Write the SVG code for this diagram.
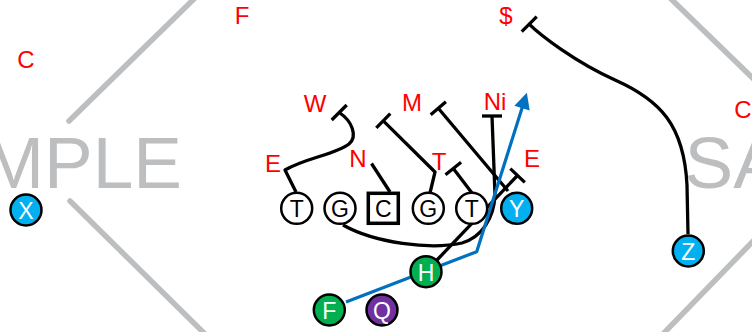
<svg xmlns="http://www.w3.org/2000/svg" width="752" height="332" viewBox="0 0 752 332">
  <defs>
    <style>
      .wm-line { stroke: #BCBEC0; stroke-width: 5.5; stroke-linecap: round; fill: none; }
      .wm-text { fill: #BCBEC0; font-family: "Liberation Sans", Arial, sans-serif; font-size: 73px; }
      .def { fill: #FF0000; font-family: "Liberation Sans", Arial, sans-serif; font-size: 24px; text-anchor: middle; }
      .player { stroke: #000; stroke-width: 2.5; }
      .lineman { fill: #FFFFFF; }
      .blue { fill: #00B0F0; }
      .green { fill: #00B050; }
      .purple { fill: #7030A0; }
      .lbl { font-family: "Liberation Sans", Arial, sans-serif; font-size: 23px; text-anchor: middle; }
      .lbl-dark { fill: #000; }
      .lbl-light { fill: #FFFFFF; }
      .route { stroke: #000; stroke-width: 3.3; fill: none; stroke-linecap: butt; stroke-linejoin: round; }
      .bar { stroke: #000; stroke-width: 3.3; }
      .run { stroke: #0070C0; stroke-width: 3.2; fill: none; stroke-linejoin: round; }
    </style>
    <marker id="arrow-blue" viewBox="0 0 10 10" refX="2" refY="5" markerWidth="5.6" markerHeight="5" orient="auto" markerUnits="strokeWidth">
      <path d="M0,0 L10,5 L0,10 z" fill="#0070C0"/>
    </marker>
  </defs>

  <rect width="752" height="332" fill="#FFFFFF"/>

  <!-- watermark -->
  <g id="watermark">
    <line class="wm-line" x1="69" y1="121" x2="197" y2="-4"/>
    <line class="wm-line" x1="70" y1="201" x2="206" y2="335"/>
    <line class="wm-line" x1="668" y1="-4" x2="762" y2="87"/>
    <line class="wm-line" x1="762" y1="232" x2="662" y2="335"/>
    <text class="wm-text" x="182" y="188" text-anchor="end">MPLE</text>
    <text class="wm-text" x="684.5" y="188">SA</text>
  </g>

  <!-- connectors: blocks, routes and the run path -->
  <g id="connectors">
    <!-- T to W -->
    <path class="route" d="M296,192 L285,170 C305,158 337,154 349,144 C358,136 352,121 339.2,112.5"/>
    <line class="bar" x1="331.7" y1="120" x2="346.7" y2="105"/>
    <!-- C to N -->
    <line class="route" x1="390" y1="192" x2="371.5" y2="163.5"/>
    <!-- G to M (combo) -->
    <path class="route" d="M430,193 L435,172 L383.3,120.8"/>
    <line class="bar" x1="376.3" y1="127.9" x2="390.3" y2="113.7"/>
    <!-- T to T -->
    <line class="route" x1="472" y1="193" x2="453.3" y2="168.5"/>
    <line class="bar" x1="445.5" y1="174.8" x2="461.1" y2="162.3"/>
    <!-- Y to M -->
    <line class="route" x1="508" y1="191" x2="438.3" y2="108.3"/>
    <line class="bar" x1="430.7" y1="114.8" x2="445.9" y2="101.8"/>
    <!-- G pull to Ni -->
    <path class="route" d="M343,225 C375,243 430,250 462,243 C482,237 494,218 495,195 L492,116"/>
    <line class="bar" x1="482" y1="116" x2="502" y2="116"/>
    <!-- H to E -->
    <line class="route" x1="437" y1="260" x2="517.5" y2="175.5"/>
    <line class="bar" x1="510.3" y1="168.6" x2="524.8" y2="182.4"/>
    <!-- Z to $ -->
    <path class="route" d="M688,234 L687,185 C684,125 660,100 615,80 C575,62 540,35 529.2,24.2"/>
    <line class="bar" x1="521.7" y1="31.7" x2="536.7" y2="16.7"/>
    <!-- F ball carrier path -->
    <path class="run" d="M346,302 L476.7,251.7 L523,105" marker-end="url(#arrow-blue)"/>
  </g>

  <!-- defenders -->
  <g id="def-F"><text class="def" x="242" y="24">F</text></g>
  <g id="def-C-left"><text class="def" x="26" y="68">C</text></g>
  <g id="def-S"><text class="def" x="506" y="24">$</text></g>
  <g id="def-C-right"><text class="def" x="743" y="118">C</text></g>
  <g id="def-W"><text class="def" x="315" y="112">W</text></g>
  <g id="def-M"><text class="def" x="412" y="111">M</text></g>
  <g id="def-Ni"><text class="def" x="495" y="110">Ni</text></g>
  <g id="def-E-left"><text class="def" x="273" y="172">E</text></g>
  <g id="def-N"><text class="def" x="358" y="167">N</text></g>
  <g id="def-T"><text class="def" x="439" y="170">T</text></g>
  <g id="def-E-right"><text class="def" x="532" y="167">E</text></g>

  <!-- offense -->
  <g id="off-X">
    <circle class="player blue" cx="26" cy="210" r="15.5"/>
    <text class="lbl lbl-light" x="26" y="219">X</text>
  </g>
  <g id="off-T-left">
    <circle class="player lineman" cx="296.7" cy="208.3" r="15.5"/>
    <text class="lbl lbl-dark" x="296.7" y="217.3">T</text>
  </g>
  <g id="off-G-left">
    <circle class="player lineman" cx="340" cy="208.3" r="15.5"/>
    <text class="lbl lbl-dark" x="340" y="217.3">G</text>
  </g>
  <g id="off-C">
    <rect x="368.3" y="193.3" width="30" height="30" fill="#FFFFFF" stroke="#000" stroke-width="3.5"/>
    <text class="lbl lbl-dark" x="383.3" y="217.3">C</text>
  </g>
  <g id="off-G-right">
    <circle class="player lineman" cx="428.3" cy="208.3" r="15.5"/>
    <text class="lbl lbl-dark" x="428.3" y="217.3">G</text>
  </g>
  <g id="off-T-right">
    <circle class="player lineman" cx="471.7" cy="208.3" r="15.5"/>
    <text class="lbl lbl-dark" x="471.7" y="217.3">T</text>
  </g>
  <g id="off-Y">
    <circle class="player blue" cx="516.7" cy="208.3" r="15.5"/>
    <text class="lbl lbl-light" x="516.7" y="217.3">Y</text>
  </g>
  <g id="off-Z">
    <circle class="player blue" cx="688.3" cy="251" r="15.5"/>
    <text class="lbl lbl-light" x="688.3" y="260">Z</text>
  </g>
  <g id="off-H">
    <circle class="player green" cx="426" cy="271.7" r="15.5"/>
    <text class="lbl lbl-light" x="426" y="280.7">H</text>
  </g>
  <g id="off-F">
    <circle class="player green" cx="329.3" cy="310" r="15.5"/>
    <text class="lbl lbl-light" x="329.3" y="319">F</text>
  </g>
  <g id="off-Q">
    <circle class="player purple" cx="382" cy="310" r="15.5"/>
    <text class="lbl lbl-light" x="382" y="319">Q</text>
  </g>
</svg>
